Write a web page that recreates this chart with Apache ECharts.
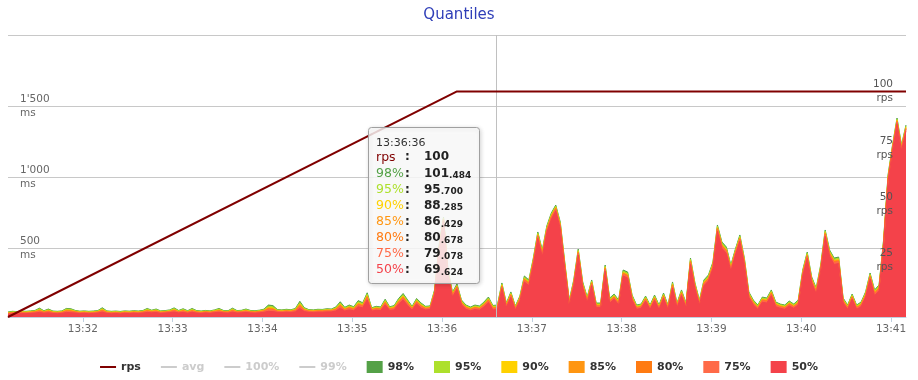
<!DOCTYPE html>
<html>
<head>
<meta charset="utf-8">
<script src="https://cdn.jsdelivr.net/npm/echarts@6/dist/echarts.min.js"></script>
<style>
html,body{margin:0;padding:0;background:#fff;}
#chart{width:918px;height:380px;}
</style>
</head>
<body>
<div id="chart"></div>
<script>
// ---- data (3-second samples from 13:31:10) ----
const startTime = Date.UTC(2016, 0, 1, 13, 31, 10);
const sampleStepMs = 3000;

const q50 = [38,43,41,45,43,46,48,52,47,50, 45,43,46,52,50,48,44,46,43,45, 48,54,46,43,45,42,46,44,47,45, 48,52,50,52,46,48,51,55,49,52, 47,53,48,45,49,46,51,53,49,47, 54,48,50,52,49,47,50,
 53,60,58,53,51,54,52,56,80,58, 53,52,54,54,56,56,62,82,62,70, 64,92,84,140,62,67,65,105,66,70, 110,140,100,68,112,82,70,72,
 175,480,690,310,160,215,105,74,64,72, 68,90,122,70,72,
 219,88,158,69,131,266,240,389,572,445, 614,705,766,642,361,104,238,455,224,124,
 240,86,86,343,118,145,105,308,294,136, 74,81,131,74,136,74,150,74,224,86,
 170,86,389,219,104,240,273,361,621,502, 466,343,455,551,389,158,104,74,124,118,
 170,92,81,74,98,81,105,308,432,259, 184,343,586,445,389,396,118,74,145,74,
 92,158,287,170,205,515,972,1188,1377,1188,1328];

const q75 = [43,48,46,50,48,51,53,61,52,58, 50,48,51,60,58,53,49,51,48,50, 53,63,51,48,50,47,51,49,52,50, 53,60,55,59,51,53,57,64,54,60, 52,61,53,50,54,51,57,61,54,52, 62,53,55,59,54,52,55,
 60,73,71,59,57,60,58,63,95,66, 59,57,60,60,63,62,70,96,70,80, 72,105,95,155,69,75,73,117,74,79, 122,154,112,76,123,93,78,80,
 186,494,700,322,171,226,115,83,72,82, 77,100,133,79,82,
 231,97,169,77,142,279,252,403,586,459, 628,719,778,656,375,115,251,468,237,135,
 252,96,96,356,129,156,115,321,307,147, 83,90,142,83,147,83,161,83,237,96,
 182,96,403,231,115,252,286,375,635,516, 480,356,468,565,403,169,115,83,135,129,
 182,102,90,83,108,90,115,321,445,272, 196,356,600,459,403,410,129,83,156,83,
 102,169,300,182,217,529,986,1200,1389,1200,1340];

const q80 = [44,49,47,51,49,52,55,63,53,60, 51,49,52,63,61,55,50,52,49,51, 54,66,52,49,51,48,52,50,53,51, 54,63,57,61,52,54,58,66,55,62, 53,63,54,51,55,52,58,63,55,53, 65,54,56,61,55,53,57,
 61,77,74,60,58,62,59,65,99,68, 60,59,62,61,64,64,73,99,72,83, 75,108,98,159,71,78,75,120,76,81, 125,157,115,78,126,96,80,82,
 188,497,702,325,173,229,118,85,74,84, 79,103,136,81,84,
 234,99,172,80,145,282,255,406,589,462, 631,722,781,659,378,117,254,471,240,138,
 255,98,98,359,131,159,118,324,310,150, 85,92,145,85,150,85,164,85,240,98,
 185,98,406,234,117,255,289,378,638,519, 483,359,471,568,406,172,117,85,138,131,
 185,105,92,85,111,92,118,324,449,275, 199,359,603,462,406,413,131,85,159,85,
 105,172,303,185,220,532,989,1203,1392,1203,1343];

const q85 = [47,52,50,54,52,55,58,68,56,64, 54,52,55,67,65,58,53,55,52,54, 57,70,55,52,54,51,55,53,56,54, 57,67,60,65,55,57,61,70,58,66, 56,67,57,54,58,55,61,67,58,56, 69,57,59,65,58,56,60,
 65,83,80,63,61,65,62,69,107,72, 63,62,65,64,68,67,77,106,76,88, 79,115,103,167,74,82,78,126,80,86, 131,164,121,82,132,101,83,86,
 194,504,707,331,179,235,123,90,78,89, 83,109,142,86,89,
 240,104,178,84,150,288,261,413,596,469, 638,729,787,666,385,123,260,477,246,143,
 261,103,103,365,137,164,123,330,316,156, 90,97,150,90,156,90,170,90,246,103,
 191,103,413,240,123,261,295,385,645,526, 490,365,477,575,413,178,123,90,143,137,
 191,109,97,90,116,97,123,330,455,281, 205,365,610,469,413,420,137,90,164,90,
 109,178,309,191,226,539,996,1209,1398,1209,1349];

const q90 = [48,53,51,55,53,56,59,70,57,66, 55,53,56,69,67,59,54,56,53,55, 58,73,56,53,55,52,56,54,57,55, 58,69,61,66,56,58,62,72,59,68, 57,69,58,55,59,56,62,69,59,57, 71,58,60,66,59,57,61,
 66,86,83,64,62,66,63,70,110,74, 64,63,66,65,69,68,79,109,78,90, 81,118,106,170,76,84,80,129,82,88, 134,167,124,84,135,104,85,88,
 196,507,709,334,181,237,125,92,80,91, 85,111,145,88,91,
 243,106,181,86,153,291,264,416,599,472, 641,732,790,669,388,125,263,480,249,146,
 264,105,105,368,139,167,125,333,319,159, 92,99,153,92,159,92,173,92,249,105,
 194,105,416,243,125,264,298,388,648,529, 493,368,480,578,416,181,125,92,146,139,
 194,112,99,92,118,99,125,333,458,284, 208,368,613,472,416,423,139,92,167,92,
 112,181,312,194,229,542,999,1212,1401,1212,1352];

const q95 = [52,57,55,59,57,60,63,77,61,71, 59,57,60,75,73,63,58,60,57,59, 62,79,60,57,59,56,60,58,61,59, 62,75,65,72,60,62,67,79,63,73, 61,75,62,59,63,60,67,75,63,61, 77,62,64,72,63,61,65,
 71,96,92,69,67,70,68,76,121,80, 69,67,70,70,74,72,85,119,83,98, 87,127,114,181,81,90,85,138,87,95, 143,177,133,90,143,112,91,93,
 204,517,716,343,189,245,133,99,85,98, 92,119,153,96,98,
 252,113,189,92,161,300,273,426,609,482, 651,742,799,679,398,133,272,489,258,154,
 273,112,112,377,147,175,133,342,328,167, 99,106,161,99,167,99,181,99,258,112,
 203,112,426,252,133,273,307,398,658,539, 503,377,489,588,426,189,133,99,154,147,
 203,119,106,99,126,106,133,342,468,293, 217,377,623,482,426,433,147,99,175,99,
 119,189,321,203,238,552,1009,1221,1410,1221,1361];

const q98 = [55,60,58,62,60,63,66,82,64,76, 62,60,63,80,78,66,61,63,60,62, 65,85,63,60,62,59,63,61,64,62, 65,80,68,76,63,65,70,84,66,78, 64,80,65,62,66,63,70,80,66,64, 82,65,67,76,66,64,68,
 75,104,100,72,70,74,71,80,130,85, 72,70,74,73,78,76,90,127,88,104, 92,135,120,190,85,95,90,145,92,100, 150,185,140,95,150,118,95,98,
 210,525,722,350,195,252,139,104,90,104, 97,125,160,101,104,
 259,118,196,97,167,308,280,434,617,490, 659,750,806,687,406,139,280,497,266,160,
 280,118,118,385,153,181,139,350,336,174, 104,111,167,104,174,104,188,104,266,118,
 210,118,434,259,139,280,315,406,666,547, 511,385,497,596,434,196,139,104,160,153,
 210,125,111,104,132,111,139,350,476,301, 224,385,631,490,434,441,153,104,181,104,
 125,196,329,210,245,560,1017,1228,1417,1228,1368];

// rps load profile key points (seconds from start, rps)
const rpsSeconds = [0, 300, 600];
const rpsValues = [0, 100, 100];

// tooltip snapshot
const tipTime = '13:36:36';
const tipSeconds = 326;
const tipLabels = ['rps', '98%', '95%', '90%', '85%', '80%', '75%', '50%'];
const tipValues = ['100', '101.484', '95.700', '88.285', '86.429', '80.678', '79.078', '69.624'];

const leftTicks = [500, 1000, 1500, 2000];
const leftLabels = [500, 1000, 1500];
const rightLabels = [25, 50, 75, 100];

// ---- styling ----
const FONT = 'DejaVu Sans';
const colors = {
  'rps': '#800000', 'avg': '#cccccc', '100%': '#cccccc', '99%': '#cccccc',
  '98%': '#54a147', '95%': '#ade02c', '90%': '#ffd100', '85%': '#ff9612',
  '80%': '#ff7b12', '75%': '#ff6a48', '50%': '#f4424a'
};
const quantiles = [['98%', q98], ['95%', q95], ['90%', q90], ['85%', q85], ['80%', q80], ['75%', q75], ['50%', q50]];

function toPairs(arr) { return arr.map((v, i) => [startTime + i * sampleStepMs, v]); }
function fmtMs(v) {
  const s = v >= 1000 ? Math.floor(v / 1000) + "'" + String(v % 1000).padStart(3, '0') : String(v);
  return s + '\nms';
}

const LINE_ICON = 'path://M0,0h0.01v0.01h-0.01zM0,5h16v2h-16zM15.99,11.99h0.01v0.01h-0.01z';
const legendNames = ['rps', 'avg', '100%', '99%', '98%', '95%', '90%', '85%', '80%', '75%', '50%'];
const lineNames = ['rps', 'avg', '100%', '99%'];

const series = [];
quantiles.forEach(([name, arr]) => {
  series.push({
    name, type: 'line', yAxisIndex: 0, data: toPairs(arr),
    symbol: 'none', showSymbol: false, animation: false,
    itemStyle: { color: colors[name] },
    lineStyle: { color: colors[name], width: 1 },
    areaStyle: { color: colors[name], opacity: 1 },
    z: 2
  });
});
['avg', '100%', '99%'].forEach(name => {
  series.push({ name, type: 'line', data: [], itemStyle: { color: colors[name] }, lineStyle: { color: colors[name] } });
});
series.push({
  name: 'rps', type: 'line', yAxisIndex: 1,
  data: rpsSeconds.map((s, i) => [startTime + s * 1000, rpsValues[i]]),
  symbol: 'none', showSymbol: false, animation: false,
  itemStyle: { color: colors.rps },
  lineStyle: { color: colors.rps, width: 2 },
  z: 5,
  markLine: {
    silent: true, symbol: ['none', 'none'], animation: false,
    label: { show: false },
    lineStyle: { color: '#c0c0c0', width: 1, type: 'solid' },
    data: [{ xAxis: startTime + tipSeconds * 1000 }]
  }
});

// tooltip graphic
const tipX = 368.5, tipY = 127.5;
const graphic = [{
  type: 'rect', z: 100,
  shape: { x: tipX, y: tipY, width: 111, height: 156, r: 3 },
  style: { fill: 'rgba(255,255,255,0.82)', stroke: '#a0a0a0', lineWidth: 1,
           shadowBlur: 4, shadowColor: 'rgba(0,0,0,0.18)', shadowOffsetX: 1, shadowOffsetY: 1 }
}, {
  type: 'text', z: 101, x: 376, y: 143,
  style: { text: tipTime, fill: '#333', fontSize: 11, fontFamily: FONT, align: 'left', verticalAlign: 'middle' }
}];
tipLabels.forEach((lab, k) => {
  const y = 157.3 + k * 16.1;
  const parts = tipValues[k].split('.');
  const valText = '{v|' + parts[0] + '}' + (parts[1] ? '{d|.' + parts[1] + '}' : '');
  graphic.push({
    type: 'text', z: 101, x: 376, y,
    style: { text: lab, fill: colors[lab], fontSize: 12.5, fontFamily: FONT, align: 'left', verticalAlign: 'middle' }
  });
  graphic.push({
    type: 'text', z: 101, x: 405, y,
    style: { text: ':', fill: '#222', fontSize: 12, fontWeight: 'bold', fontFamily: FONT, align: 'left', verticalAlign: 'middle' }
  });
  graphic.push({
    type: 'text', z: 101, x: 424, y,
    style: {
      text: valText, align: 'left', verticalAlign: 'middle',
      rich: {
        v: { fontSize: 12, fontWeight: 'bold', fontFamily: FONT, fill: '#222', lineHeight: 14 },
        d: { fontSize: 9, fontWeight: 'bold', fontFamily: FONT, fill: '#222', lineHeight: 11, verticalAlign: 'bottom' }
      }
    }
  });
});

const chart = echarts.init(document.getElementById('chart'), null, { renderer: 'canvas' });
chart.setOption({
  animation: false,
  useUTC: true,
  backgroundColor: '#fff',
  title: {
    text: 'Quantiles', left: 'center', top: 3,
    textStyle: { color: '#2f3eb8', fontSize: 15, fontWeight: 'normal', fontFamily: FONT }
  },
  legend: {
    left: 'center', top: 356, itemWidth: 16, itemHeight: 12, itemGap: 20,
    inactiveColor: '#cccccc',
    itemStyle: { borderWidth: 0 },
    textStyle: { color: '#333', fontSize: 11, fontWeight: 'bold', fontFamily: FONT },
    data: legendNames.map(n => ({ name: n, icon: lineNames.includes(n) ? LINE_ICON : 'rect' })),
    selected: { 'avg': false, '100%': false, '99%': false }
  },
  grid: { left: 8, right: 12, top: 35, bottom: 63, containLabel: false },
  xAxis: {
    type: 'time', min: startTime, max: startTime + 600000,
    minInterval: 60000, maxInterval: 60000,
    splitLine: { show: false },
    axisLine: { show: true, lineStyle: { color: '#c0d0e0' } },
    axisTick: { show: true, length: 5, lineStyle: { color: '#c0d0e0' } },
    axisLabel: { formatter: '{HH}:{mm}', color: '#666', fontSize: 10.5, fontFamily: FONT, margin: 7 }
  },
  yAxis: [{
    type: 'value', min: 20, max: 2000, position: 'left',
    axisLine: { show: false },
    axisTick: { show: false, customValues: leftTicks },
    splitLine: { show: true, lineStyle: { color: '#c8c8c8', width: 1 } },
    axisLabel: {
      inside: true, margin: 12, customValues: leftLabels,
      formatter: v => fmtMs(v),
      color: '#666', fontSize: 10.5, lineHeight: 14, fontFamily: FONT
    }
  }, {
    type: 'value', min: 0, max: 125, interval: 25, position: 'right',
    z: 10,
    axisLine: { show: false }, axisTick: { show: false },
    splitLine: { show: false },
    axisLabel: {
      inside: true, margin: 13, customValues: rightLabels,
      formatter: v => v + '\nrps',
      color: '#555', fontSize: 10.5, lineHeight: 14, fontFamily: FONT
    }
  }],
  series,
  graphic
});
</script>
</body>
</html>
